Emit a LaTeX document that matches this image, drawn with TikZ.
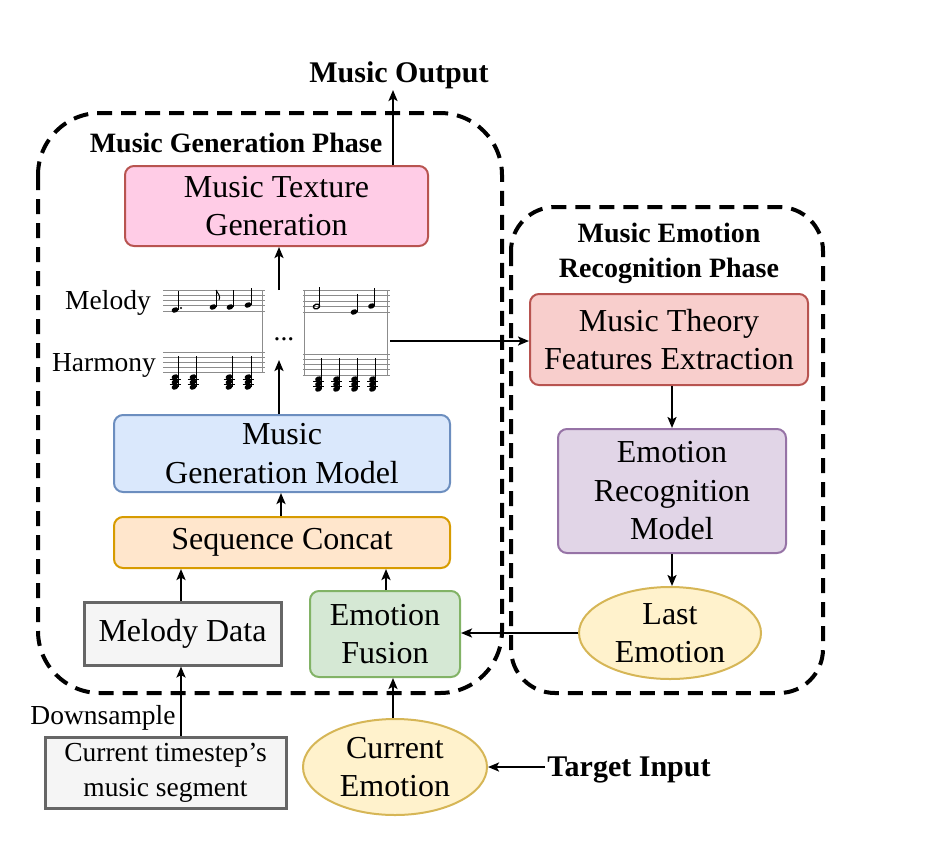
\documentclass[tikz,border=0pt]{standalone}
\usepackage{fontspec}
\setmainfont{Liberation Serif}
\usetikzlibrary{arrows.meta,shapes.geometric}
\definecolor{pinkF}{HTML}{FFCCE6}
\definecolor{redD}{HTML}{B85450}
\definecolor{blueF}{HTML}{DAE8FC}
\definecolor{blueD}{HTML}{6C8EBF}
\definecolor{oraF}{HTML}{FFE6CC}
\definecolor{oraD}{HTML}{D79B00}
\definecolor{grayF}{HTML}{F5F5F5}
\definecolor{grayD}{HTML}{666666}
\definecolor{greenF}{HTML}{D5E8D4}
\definecolor{greenD}{HTML}{82B366}
\definecolor{yelF}{HTML}{FFF2CC}
\definecolor{yelD}{HTML}{D6B656}
\definecolor{redF}{HTML}{F8CECC}
\definecolor{purF}{HTML}{E1D5E7}
\definecolor{purD}{HTML}{9673A6}
\definecolor{staffC}{HTML}{8C8C8C}
\newcommand\bigtxt{\fontsize{32}{38.5}\selectfont}
\newcommand\smalltxt{\fontsize{27.5}{35}\selectfont}
\newcommand\titletxt{\fontsize{28}{35}\selectfont\bfseries}
\newcommand\nhead[2]{\fill[rotate around={20:(#1,#2)}] (#1,#2) ellipse [x radius=3.5, y radius=2.6];}
\newcommand\qnote[3]{\nhead{#1}{#2}\draw[line width=1pt] (#1+3,#2) -- (#1+3,#3);}
\newcommand\chordat[3]{%
  \nhead{#1}{#2+4}\nhead{#1}{#2+9}\nhead{#1}{#2+14}%
  \draw[line width=0.9pt] (#1-5.5,#2+6.5) -- (#1+5.5,#2+6.5) (#1-5.5,#2+11.5) -- (#1+5.5,#2+11.5);%
  \draw[line width=1pt] (#1+3,#2+14) -- (#1+3,#3);}
\begin{document}
\begin{tikzpicture}[x=1pt,y=-1pt,
  box/.style={draw, line width=2pt, rounded corners=9pt, align=center, font=\bigtxt, inner sep=0pt},
  sqbox/.style={draw=grayD, fill=grayF, line width=3pt, align=center, inner sep=0pt},
  ell/.style={ellipse, draw=yelD, fill=yelF, line width=2pt, align=center, font=\bigtxt, inner sep=0pt},
  phase/.style={draw, line width=4pt, dash pattern=on 15pt off 9pt},
  arr/.style={line width=2.5pt, -{Stealth[length=11pt,width=9pt,inset=2.5pt]}},
  lbl/.style={align=center, inner sep=0pt}]
\useasboundingbox (0,0) rectangle (925,841);

% phase frames
\draw[phase, rounded corners=62pt] (38,113) rectangle (502,693);
\draw[phase, rounded corners=44pt] (511,207) rectangle (823,693);

% titles
\node[lbl, font=\fontsize{30}{36}\selectfont\bfseries] (out) at (399,75) {Music Output};
\node[lbl, font=\titletxt] (t1) at (236,143) {Music Generation Phase};
\node[lbl, font=\titletxt] (t2) at (669,253) {Music Emotion\\Recognition Phase};
\node[lbl, font=\fontsize{30}{36}\selectfont\bfseries, text depth=0pt] (tin) at (629,767) {Target Input};

% boxes
\node[box, draw=redD, fill=pinkF, minimum width=303pt, minimum height=80pt] (mtg) at (276.5,206) {Music Texture\\Generation};
\node[box, draw=blueD, fill=blueF, minimum width=336pt, minimum height=77pt] (mgm) at (282,453.5) {Music\\Generation Model};
\node[box, draw=oraD, fill=oraF, minimum width=336pt, minimum height=51pt] (sc) at (282,542.5) {Sequence Concat};
\node[sqbox, font=\bigtxt, minimum width=197pt, minimum height=63pt] (md) at (182.5,633.5) {Melody Data};
\node[box, draw=greenD, fill=greenF, minimum width=150pt, minimum height=86pt] (ef) at (385,634) {Emotion\\Fusion};
\node[sqbox, font=\smalltxt, minimum width=241pt, minimum height=71pt] (cts) at (165.5,772.5) {Current timestep's\\music segment};
\node[ell, minimum width=184pt, minimum height=96pt] (ce) at (395,767) {Current\\Emotion};
\node[box, draw=redD, fill=redF, minimum width=278pt, minimum height=91pt] (mtfe) at (669,339.5) {Music Theory\\Features Extraction};
\node[box, draw=purD, fill=purF, minimum width=228pt, minimum height=124pt] (erm) at (672,491) {Emotion\\Recognition\\Model};
\node[ell, minimum width=182pt, minimum height=92pt] (le) at (670,633) {Last\\Emotion};

% labels
\node[lbl, font=\smalltxt] (mel) at (108,303) {Melody};
\node[lbl, font=\smalltxt] (har) at (104,365) {Harmony};
\node[lbl, font=\smalltxt] (dots) at (284,339) {...};
\node[lbl, font=\smalltxt] (ds) at (103,718) {Downsample};

% scores - left
\foreach \k in {0,...,4} {
  \draw[staffC, line width=0.9pt] (163,290+\k*5.25) -- (265,290+\k*5.25);
  \draw[staffC, line width=0.9pt] (163,352.5+\k*5.1) -- (265,352.5+\k*5.1);
}
\draw[staffC, line width=1pt] (262,290) -- (262,373);
\qnote{175}{310}{291}
\fill (181,308) circle (1.1);
\qnote{213}{307}{290}
\draw[line width=1pt] (216,290) .. controls (218,294) and (221,296) .. (219,300);
\qnote{230}{307}{290}
\qnote{248}{305}{288}
\chordat{175}{373}{356}
\chordat{193}{373}{356}
\chordat{229}{373}{356}
\chordat{248}{373}{356}
% scores - right
\foreach \k in {0,...,4} {
  \draw[staffC, line width=0.9pt] (303,290.5+\k*5.4) -- (390,290.5+\k*5.4);
  \draw[staffC, line width=0.9pt] (303,354+\k*5.25) -- (390,354+\k*5.25);
}
\draw[staffC, line width=1pt] (304,290.5) -- (304,375);
\draw[staffC, line width=1pt] (387.5,290.5) -- (387.5,375);
\draw[line width=1.3pt, rotate around={20:(316.5,306.5)}] (316.5,306.5) ellipse [x radius=3.2, y radius=2.3];
\draw[line width=1pt] (319.5,306.5) -- (319.5,287);
\qnote{354}{312}{294}
\qnote{371.5}{306}{288}
\chordat{318.5}{375}{358}
\chordat{336.5}{375}{358}
\chordat{354.5}{375}{358}
\chordat{372.5}{375}{358}

% coordinates
\coordinate (sbot) at (279,360);
\coordinate (stop) at (279,290);
\coordinate (sr) at (390,341);
\coordinate (outp) at (393,90);
\coordinate (dsx) at (181,0);
\coordinate (scx1) at (181,0);
\coordinate (scx2) at (386,0);
\coordinate (cex) at (393,0);
\coordinate (x672) at (672,0);
\coordinate (tinp) at (545,767);

% connectors
\draw[arr] (mtg.north -| outp) -- (outp);
\draw[arr] (stop) -- (mtg.south -| stop);
\draw[arr] (mgm.north -| sbot) -- (sbot);
\draw[arr] (sc.north -| 281,0) -- (mgm.south -| 281,0);
\draw[arr] (md.north -| scx1) -- (sc.south -| scx1);
\draw[arr] (ef.north -| scx2) -- (sc.south -| scx2);
\draw[arr] (cts.north -| dsx) -- (md.south -| dsx);
\draw[arr] (ce.north -| cex) -- (ef.south -| cex);
\draw[arr] (tinp) -- (ce.east);
\draw[arr] (sr) -- (mtfe.west |- sr);
\draw[arr] (mtfe.south -| x672) -- (erm.north -| x672);
\draw[arr] (erm.south -| x672) -- (le.north -| x672);
\draw[arr] (le.west) -- (ef.east |- le.west);
\end{tikzpicture}
\end{document}
